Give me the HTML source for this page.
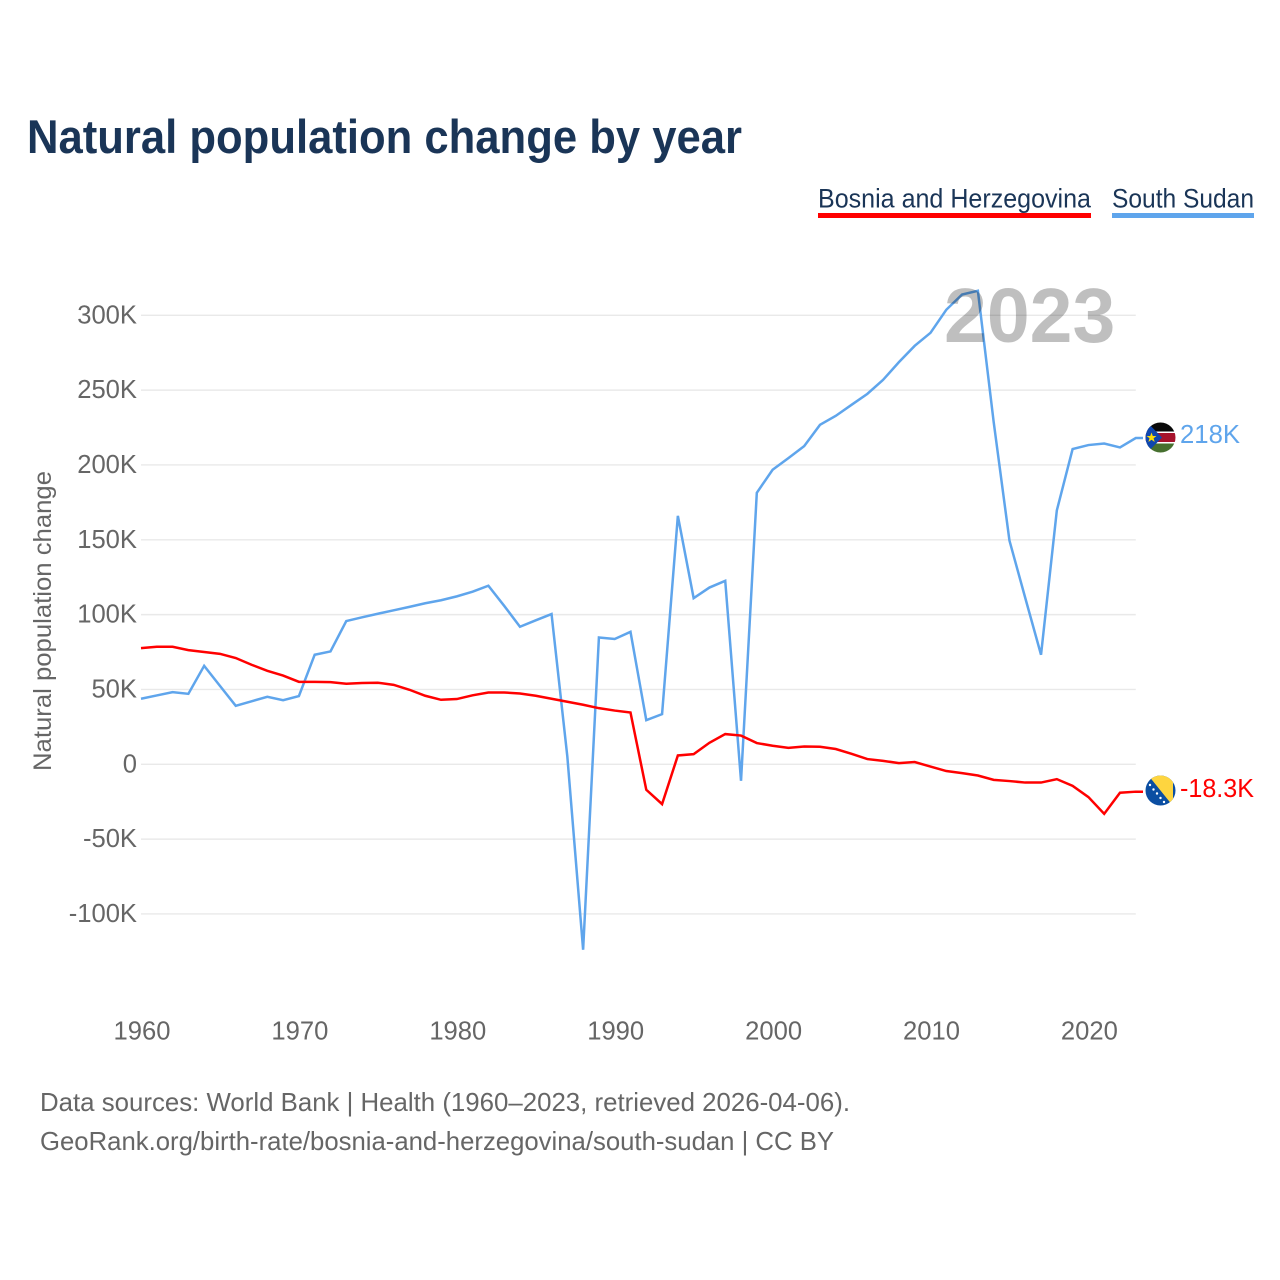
<!DOCTYPE html>
<html lang="en">
<head>
<meta charset="utf-8">
<title>Natural population change by year</title>
<style>
html,body{margin:0;padding:0;background:#fff;}
svg{display:block;font-family:"Liberation Sans",sans-serif;}
.tick{font-size:25.6px;fill:#666;}
.foot{font-size:26px;fill:#666;}
</style>
</head>
<body>
<svg id="chart" xmlns="http://www.w3.org/2000/svg" width="1280" height="1280" viewBox="0 0 1280 1280">
  <defs>
    <clipPath id="clip-ss"><circle cx="1160.5" cy="437.5" r="15"/></clipPath>
    <clipPath id="clip-ba"><circle cx="1160.5" cy="790.5" r="15"/></clipPath>
  </defs>
  <rect x="0" y="0" width="1280" height="1280" fill="#fff"/>
  <text x="27" y="153" font-size="47" font-weight="700" fill="#1a3557" textLength="715" lengthAdjust="spacingAndGlyphs">Natural population change by year</text>

  <g>
    <text x="818" y="207.5" font-size="27" fill="#1a3557" textLength="273" lengthAdjust="spacingAndGlyphs">Bosnia and Herzegovina</text>
    <rect x="818" y="213" width="273" height="5" fill="#ff0000"/>
  </g>
  <g>
    <text x="1112" y="207.5" font-size="27" fill="#1a3557" textLength="142" lengthAdjust="spacingAndGlyphs">South Sudan</text>
    <rect x="1112" y="213" width="142" height="5" fill="#5fa5ec"/>
  </g>

  <g id="grid"></g>
  <g id="ylabels"></g>
  <g id="xlabels"></g>

  <text x="51" y="621" transform="rotate(-90 51 621)" text-anchor="middle" font-size="25" fill="#666" textLength="300" lengthAdjust="spacingAndGlyphs">Natural population change</text>

  <path id="line-ss" fill="none" stroke="#5fa5ec" stroke-width="2.5" stroke-linejoin="miter"/>
  <path id="line-ba" fill="none" stroke="#ff0000" stroke-width="2.5" stroke-linejoin="miter"/>

  <text x="944" y="342" font-size="77" font-weight="700" fill="#000" fill-opacity="0.25">2023</text>

  <g id="flag-ss" clip-path="url(#clip-ss)">
    <rect x="1145" y="422" width="31" height="31" fill="#fff"/>
    <rect x="1145" y="422" width="31" height="9.5" fill="#0a0a0a"/>
    <rect x="1145" y="433" width="31" height="9" fill="#a6122c"/>
    <rect x="1145" y="443.5" width="31" height="9.5" fill="#47702f"/>
    <polygon points="1145,420 1162,437.5 1145,455" fill="#0f47af"/>
    <polygon points="1151.5,432.5 1152.8,436 1156.5,436 1153.6,438.3 1154.7,442 1151.5,439.8 1148.4,442 1149.5,438.3 1146.6,436 1150.2,436" fill="#fcdd09"/>
  </g>
  <g id="flag-ba" clip-path="url(#clip-ba)">
    <rect x="1145" y="775" width="31" height="31" fill="#0b4ea2"/>
    <polygon points="1148,775 1173,775 1173,806" fill="#fed53f"/>
    <circle cx="1150" cy="785" r="1.2" fill="#fff"/>
    <circle cx="1153.5" cy="789.5" r="1.2" fill="#fff"/>
    <circle cx="1157" cy="793.5" r="1.2" fill="#fff"/>
    <circle cx="1160.5" cy="798" r="1.2" fill="#fff"/>
    <circle cx="1164" cy="802" r="1.2" fill="#fff"/>
  </g>

  <text id="value-ss" x="1180" y="443" font-size="26" fill="#5fa5ec" textLength="60" lengthAdjust="spacingAndGlyphs"></text>
  <text id="value-ba" x="1180" y="797" font-size="26" fill="#ff0000" textLength="74" lengthAdjust="spacingAndGlyphs"></text>

  <text class="foot" x="40" y="1111" textLength="810" lengthAdjust="spacingAndGlyphs">Data sources: World Bank | Health (1960–2023, retrieved 2026-04-06).</text>
  <text class="foot" x="40" y="1150" textLength="794" lengthAdjust="spacingAndGlyphs">GeoRank.org/birth-rate/bosnia-and-herzegovina/south-sudan | CC BY</text>
</svg>
<script>
var startYear = 1960;
var xTickYears = [1960, 1970, 1980, 1990, 2000, 2010, 2020];
var yTickValues = [-100, -50, 0, 50, 100, 150, 200, 250, 300];
var yTickLabels = ["-100K", "-50K", "0", "50K", "100K", "150K", "200K", "250K", "300K"];
var southSudan = [43.8,46.0,48.2,47.1,65.8,52.4,39.1,42.1,45.1,42.8,45.6,73.2,75.4,95.7,98.2,100.6,102.9,105.2,107.6,109.6,112.2,115.3,119.3,105.9,91.9,96.2,100.4,5.2,-123.9,84.7,83.7,88.5,29.5,33.5,166.0,111.0,118.1,122.6,-11.0,181.4,196.8,204.6,212.6,226.8,232.8,240.2,247.5,256.9,268.7,279.6,288.3,303.7,313.9,316.4,228.8,149.5,111.2,73.2,169.6,210.6,213.3,214.3,211.7,218];
var bosnia = [77.6,78.5,78.5,76.3,75.0,73.8,71.0,66.5,62.5,59.3,55.1,55.1,54.9,53.8,54.3,54.5,53.1,49.8,45.8,43.1,43.6,46.1,48.0,48.0,47.3,45.8,43.8,41.8,39.8,37.5,35.9,34.6,-17.0,-26.6,5.9,6.8,14.4,20.2,19.2,14.2,12.4,11.0,11.9,11.7,10.2,7.0,3.5,2.3,0.8,1.5,-1.5,-4.5,-5.9,-7.5,-10.4,-11.2,-12.2,-12.2,-9.9,-14.4,-21.9,-33.1,-19.0,-18.3];
var southSudanLabel = "218K";
var bosniaLabel = "-18.3K";

var NS = "http://www.w3.org/2000/svg";
function xScale(year) { return 141 + (year - 1960) * 15.79; }
function yScale(v) { return 764.3 - v * 1.4967; }

function linePath(values) {
  var d = "";
  for (var i = 0; i < values.length; i++) {
    d += (i ? "L" : "M") + xScale(startYear + i).toFixed(2) + " " + yScale(values[i]).toFixed(2);
  }
  d += "L1143 " + yScale(values[values.length - 1]).toFixed(2);
  return d;
}

var grid = document.getElementById("grid");
var ylabels = document.getElementById("ylabels");
var xlabels = document.getElementById("xlabels");

yTickValues.forEach(function (v, i) {
  var gl = document.createElementNS(NS, "line");
  
  
  gl.setAttribute("x1", xScale(1960));
  gl.setAttribute("x2", xScale(2023));
  gl.setAttribute("y1", yScale(v));
  gl.setAttribute("y2", yScale(v));
  gl.setAttribute("stroke", "#e9e9e9");
  gl.setAttribute("stroke-width", "1.4");
  grid.appendChild(gl);

  var t = document.createElementNS(NS, "text");
  
  
  t.setAttribute("class", "tick");
  t.setAttribute("x", 137);
  t.setAttribute("y", yScale(v) + 8);
  t.setAttribute("text-anchor", "end");
  t.textContent = yTickLabels[i];
  ylabels.appendChild(t);
});

xTickYears.forEach(function (yr) {
  var t = document.createElementNS(NS, "text");
  
  
  t.setAttribute("class", "tick");
  t.setAttribute("x", xScale(yr) + 1);
  t.setAttribute("y", 1039.5);
  t.setAttribute("text-anchor", "middle");
  t.textContent = yr;
  xlabels.appendChild(t);
});

document.getElementById("line-ss").setAttribute("d", linePath(southSudan));
document.getElementById("line-ba").setAttribute("d", linePath(bosnia));
document.getElementById("value-ss").textContent = southSudanLabel;
document.getElementById("value-ba").textContent = bosniaLabel;
</script>
</body>
</html>
